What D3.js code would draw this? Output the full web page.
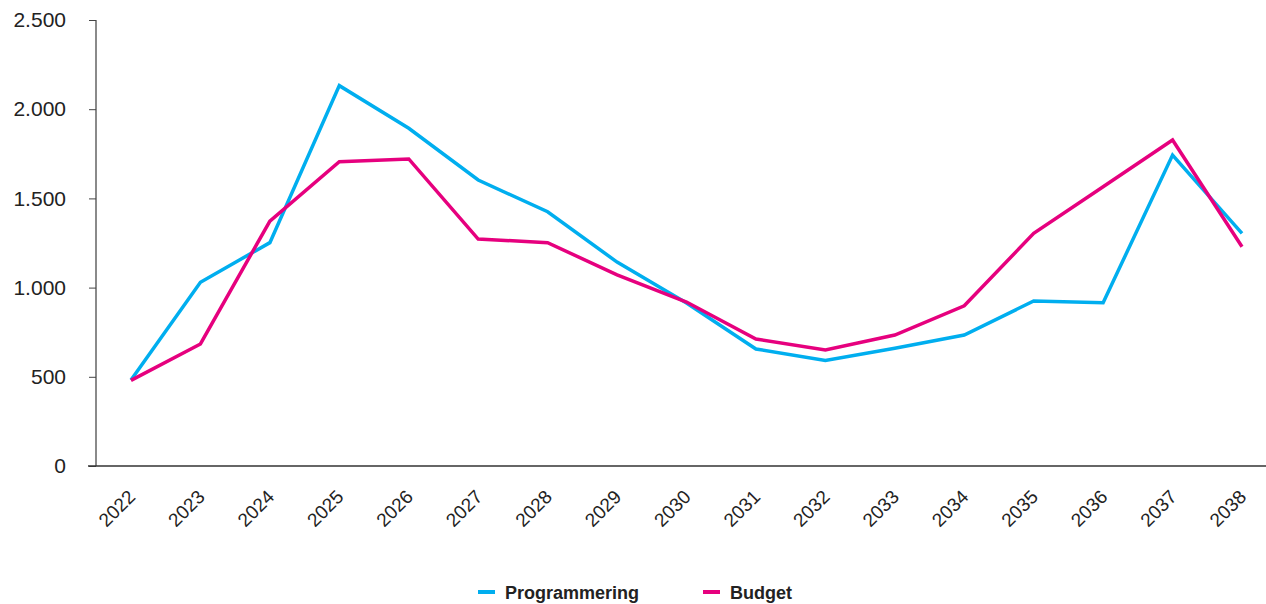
<!DOCTYPE html>
<html>
<head>
<meta charset="utf-8">
<script src="https://cdn.jsdelivr.net/npm/d3@7"></script>
<style>
  html, body { margin: 0; padding: 0; background: #fff; }
  svg { display: block; }
</style>
</head>
<body>
<svg id="chart" width="1266" height="604"></svg>
<script>
const years = [2022,2023,2024,2025,2026,2027,2028,2029,2030,2031,2032,2033,2034,2035,2036,2037,2038];
const programmering = [482,1030,1252,2132,1893,1603,1425,1143,914,656,592,660,734,925,915,1743,1304];
const budget = [480,684,1373,1706,1721,1272,1252,1071,919,712,650,734,898,1304,1565,1827,1229];
const yTicks = [0,500,1000,1500,2000,2500];
const yTickLabels = ["0","500","1.000","1.500","2.000","2.500"];
const seriesNames = ["Programmering","Budget"];
const seriesColors = ["#00AEEF","#E6007E"];

const svg = d3.select("#chart");
const x = d3.scaleLinear().domain([2022,2038]).range([131,1242]);
const y = d3.scaleLinear().domain([0,2500]).range([466,20]);

// Y axis
const yAxis = d3.axisLeft(y).tickValues(yTicks)
  .tickFormat((d,i)=>yTickLabels[i]).tickSize(7).tickPadding(23);
const gy = svg.append("g").attr("transform","translate(96,0)").call(yAxis);
gy.select(".domain").attr("stroke","#8a8a8a").attr("stroke-width",2).attr("d","M0,20V466");
gy.selectAll(".tick line").attr("stroke","#444").attr("stroke-width",1);
gy.selectAll(".tick text").attr("fill","#222").style("font-family","'Liberation Sans', Arial, sans-serif").style("font-size","21px");

// X axis
const xAxis = d3.axisBottom(x).tickValues(years).tickFormat(d3.format("d")).tickSize(0);
const gx = svg.append("g").attr("transform","translate(0,466)").call(xAxis);
gx.select(".domain").attr("stroke","#333").attr("stroke-width",1.5).attr("d","M88,0H1266");
gx.selectAll(".tick text")
  .attr("fill","#222")
  .style("font-family","'Liberation Sans', Arial, sans-serif")
  .style("font-size","19px")
  .attr("text-anchor","end")
  .attr("dy",0)
  .attr("y",0)
  .attr("transform","translate(5,32) rotate(-45)");

// Lines
const line = d3.line().x((d,i)=>x(years[i])).y(d=>y(d));
[programmering, budget].forEach((s,k)=>{
  svg.append("path").datum(s)
    .attr("fill","none")
    .attr("stroke",seriesColors[k])
    .attr("stroke-width",3.5)
    .attr("stroke-linejoin","miter")
    .attr("d",line);
});

// Legend
const legendX = [478,703];
seriesNames.forEach((n,k)=>{
  const g = svg.append("g").attr("transform",`translate(${legendX[k]},0)`);
  g.append("line").attr("x1",0).attr("x2",17).attr("y1",592).attr("y2",592)
    .attr("stroke",seriesColors[k]).attr("stroke-width",4);
  g.append("text").attr("x",27).attr("y",599).text(n)
    .attr("fill","#222")
    .style("font-family","'Liberation Sans', Arial, sans-serif")
    .style("font-weight","bold").style("font-size","18px");
});
</script>
</body>
</html>
